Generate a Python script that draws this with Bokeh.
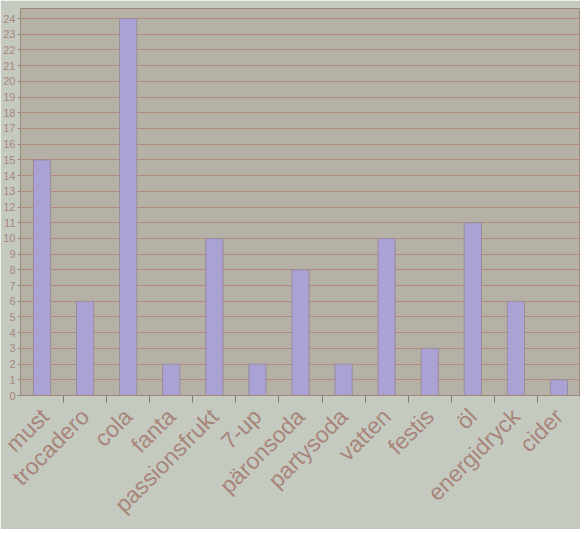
import math
from bokeh.plotting import figure
from bokeh.models import FixedTicker, ColumnDataSource, Range1d
from bokeh.embed import file_html
from bokeh.resources import INLINE

categories = ["must", "trocadero", "cola", "fanta", "passionsfrukt", "7-up",
              "päronsoda", "partysoda", "vatten", "festis", "öl", "energidryck", "cider"]
counts = [15, 6, 24, 2, 10, 2, 8, 2, 10, 3, 11, 6, 1]
y_ticks = list(range(0, 25))

n = len(categories)
centers = [i + 0.5 for i in range(n)]
boundaries = list(range(1, n))

src = ColumnDataSource(dict(x=centers, top=counts, name=categories))

p = figure(frame_width=560, frame_height=387, output_backend="svg", toolbar_location=None,
           x_range=Range1d(0, n), y_range=Range1d(0, 24.64),
           min_border_top=8, min_border_right=0, min_border_left=0, min_border_bottom=0)

p.background_fill_color = "#b6b1a7"
p.border_fill_color = "#c5cac1"
p.outline_line_color = "#a08878"

p.vbar(x="x", top="top", width=0.4, source=src, fill_color="#aaa2d4",
       line_color="#9a8c98", line_width=1)

# x axis
xt = FixedTicker(ticks=centers, minor_ticks=boundaries)
p.xaxis.ticker = xt
p.xaxis.major_label_overrides = {c: name for c, name in zip(centers, categories)}
p.xaxis.major_label_orientation = math.pi / 4
p.xaxis.major_tick_line_color = None
p.xaxis.minor_tick_line_color = "#8a7870"
p.xaxis.minor_tick_out = 7
p.xaxis.minor_tick_in = 0
p.xaxis.axis_line_color = "#a08878"
p.xaxis.major_label_text_color = "#a8857a"
p.xaxis.major_label_text_font = "Liberation Sans"
p.xaxis.major_label_text_font_size = "23px"
p.xaxis.major_label_standoff = 10

# y axis
p.yaxis.ticker = FixedTicker(ticks=y_ticks)
p.yaxis.major_label_text_color = "#a8857a"
p.yaxis.major_label_text_font = "Liberation Sans"
p.yaxis.major_label_text_font_size = "11px"
p.yaxis.major_tick_out = 3
p.yaxis.major_tick_in = 0
p.yaxis.major_label_standoff = 2
p.yaxis.major_tick_line_color = "#a08878"
p.yaxis.minor_tick_line_color = None
p.yaxis.axis_line_color = "#a08878"

p.xgrid.grid_line_color = None
p.ygrid.grid_line_color = "#b4887a"
p.ygrid.grid_line_width = 1.2

open("out.html", "w").write(file_html(p, INLINE))
